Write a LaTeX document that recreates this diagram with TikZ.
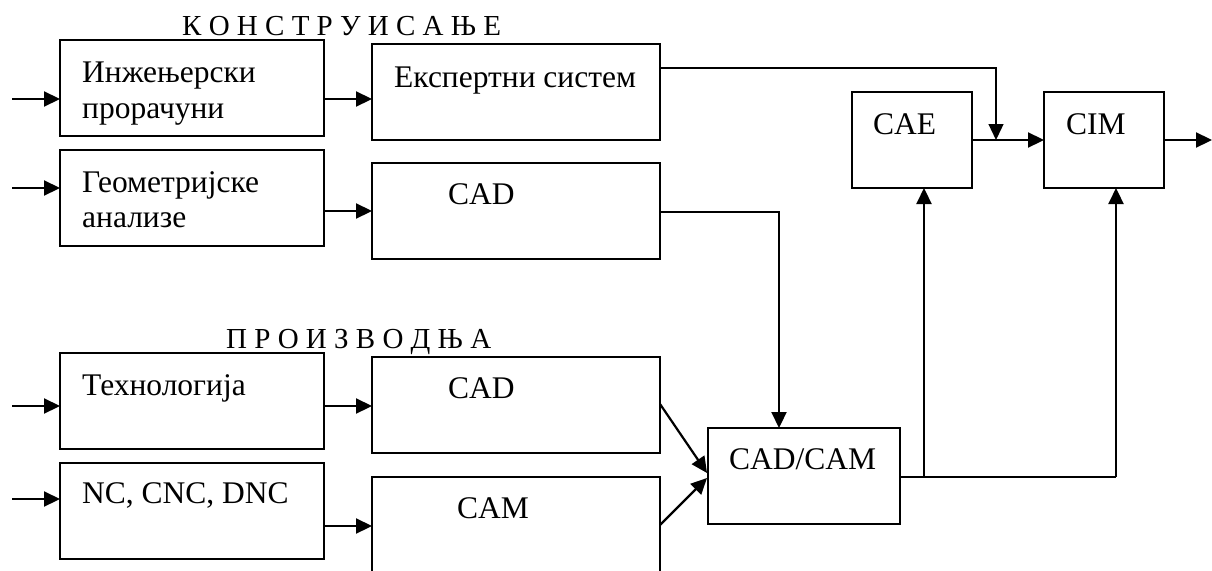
\documentclass[tikz,border=0pt]{standalone}
\usepackage{fontspec}
\setmainfont{Liberation Serif}
\usetikzlibrary{arrows.meta}
\tikzset{
  box/.style={draw, line width=2pt, inner sep=0pt, outer sep=0pt},
  lbl/.style={anchor=base west, inner sep=0pt, font=\fontsize{31.5}{36}\selectfont},
  ttl/.style={anchor=base west, inner sep=0pt, font=\fontsize{29}{34}\selectfont},
  arr/.style={line width=2.2pt, -{Triangle[length=16pt,width=15pt]}},
  ln/.style={line width=2.2pt},
}
\begin{document}
\begin{tikzpicture}[x=1pt,y=-1pt]
\useasboundingbox (0,0) rectangle (1212,570);
% boxes
\node[box, minimum width=264pt, minimum height=96pt] (b1) at (192,88) {};
\node[box, minimum width=264pt, minimum height=96pt] (b2) at (192,198) {};
\node[box, minimum width=288pt, minimum height=96pt] (ex) at (516,92) {};
\node[box, minimum width=288pt, minimum height=96pt] (cad1) at (516,211) {};
\node[box, minimum width=264pt, minimum height=96pt] (tech) at (192,401) {};
\node[box, minimum width=264pt, minimum height=96pt] (nc) at (192,511) {};
\node[box, minimum width=288pt, minimum height=96pt] (cad2) at (516,405) {};
\node[box, minimum width=288pt, minimum height=96pt] (cam) at (516,525) {};
\node[box, minimum width=192pt, minimum height=96pt] (cc) at (804,476) {};
\node[box, minimum width=120pt, minimum height=96pt] (cae) at (912,140) {};
\node[box, minimum width=120pt, minimum height=96pt] (cim) at (1104,140) {};
% texts
\node[ttl] (t0) at (182,35) {К О Н С Т Р У И С А Њ Е};
\node[lbl] (t1a) at (82,82) {Инжењерски};
\node[lbl] (t1b) at (82,118) {прорачуни};
\node[lbl] (t2a) at (82,192) {Геометријске};
\node[lbl] (t2b) at (82,227) {анализе};
\node[lbl] (tex) at (394,87) {Експертни систем};
\node[lbl] (tcad1) at (448,204) {CAD};
\node[ttl] (tp) at (226,348) {П Р О И З В О Д Њ А};
\node[lbl] (ttech) at (82,395) {Технологија};
\node[lbl] (tnc) at (82,503) {NC, CNC, DNC};
\node[lbl] (tcad2) at (448,398) {CAD};
\node[lbl] (tcam) at (457,518) {CAM};
\node[lbl] (tcc) at (729,469) {CAD/CAM};
\node[lbl] (tcae) at (873,134) {CAE};
\node[lbl] (tcim) at (1066,134) {CIM};
% free ends
\coordinate (in1) at (12,99);
\coordinate (in2) at (12,188);
\coordinate (in3) at (12,406);
\coordinate (in4) at (12,499);
\coordinate (out) at (1212,140);
\coordinate (j1) at (996,68);
\coordinate (j2) at (779,212);
\coordinate (j3) at (924,477);
\coordinate (j4) at (1116,477);
% inputs
\draw[arr] (in1) -- (in1 -| b1.west);
\draw[arr] (in2) -- (in2 -| b2.west);
\draw[arr] (in3) -- (in3 -| tech.west);
\draw[arr] (in4) -- (in4 -| nc.west);
% left to middle
\draw[arr] (b1.east |- in1) -- (ex.west |- in1);
\draw[arr] (b2.east |- 0,211) -- (cad1.west |- 0,211);
\draw[arr] (tech.east |- in3) -- (cad2.west |- in3);
\draw[arr] (nc.east |- 0,526) -- (cam.west |- 0,526);
% expert to junction
\draw[arr, line width=1.3pt] (ex.east |- j1) -- (j1) -- (j1 |- cae.east);
% cad1 to cad/cam
\draw[arr] (cad1.east |- j2) -- (j2) -- (j2 |- cc.north);
% diagonals
\draw[arr] (cad2.east |- 0,404) -- (707,473);
\draw[arr] (cam.east |- 0,525) -- (707,478);
% cad/cam to cae and cim
\draw[ln, line width=1.5pt] (cc.east |- j3) -- (j3);
\draw[ln] (j3) -- (j4);
\draw[arr] (j3) -- (j3 |- cae.south);
\draw[arr] (j4) -- (j4 |- cim.south);
% cae to cim, out
\draw[arr] (cae.east) -- (cim.west);
\draw[arr] (cim.east) -- (out);
\end{tikzpicture}
\end{document}
